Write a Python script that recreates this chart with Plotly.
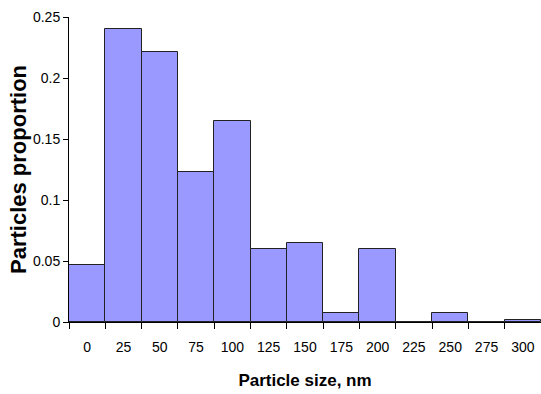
import plotly.graph_objects as go

categories = ["0", "25", "50", "75", "100", "125", "150", "175", "200", "225", "250", "275", "300"]
proportion = [0.047, 0.240, 0.221, 0.123, 0.165, 0.060, 0.065, 0.007, 0.060, 0.0, 0.007, 0.0, 0.002]

fig = go.Figure(
    go.Bar(
        x=categories,
        y=proportion,
        marker=dict(color="#9999FF", line=dict(color="#222222", width=1)),
    )
)

fig.update_layout(
    width=541,
    height=394,
    margin=dict(l=69, r=0, t=17, b=72),
    paper_bgcolor="white",
    plot_bgcolor="white",
    bargap=0,
    showlegend=False,
    font=dict(family="Liberation Sans, Arial, sans-serif", size=14, color="black"),
)

fig.update_xaxes(
    type="category",
    automargin=False,
    tickson="boundaries",
    ticks="outside",
    ticklen=6,
    tickcolor="black",
    showline=True,
    linecolor="black",
    linewidth=1,
    showgrid=False,
    ticklabelstandoff=12,
    title=dict(text="<b>Particle size, nm</b>", font=dict(size=17), standoff=20),
)

fig.update_yaxes(
    range=[0, 0.25],
    dtick=0.05,
    automargin=False,
    ticks="outside",
    ticklen=5,
    tickcolor="black",
    showline=True,
    linecolor="black",
    linewidth=1,
    showgrid=False,
    zeroline=False,
    title=dict(text="<b>Particles proportion</b>", font=dict(size=22), standoff=0),
)

fig.write_html(
    "out.html",
    config={"displayModeBar": False},
    post_script="document.body.style.margin='0';document.body.style.overflow='hidden';",
)
